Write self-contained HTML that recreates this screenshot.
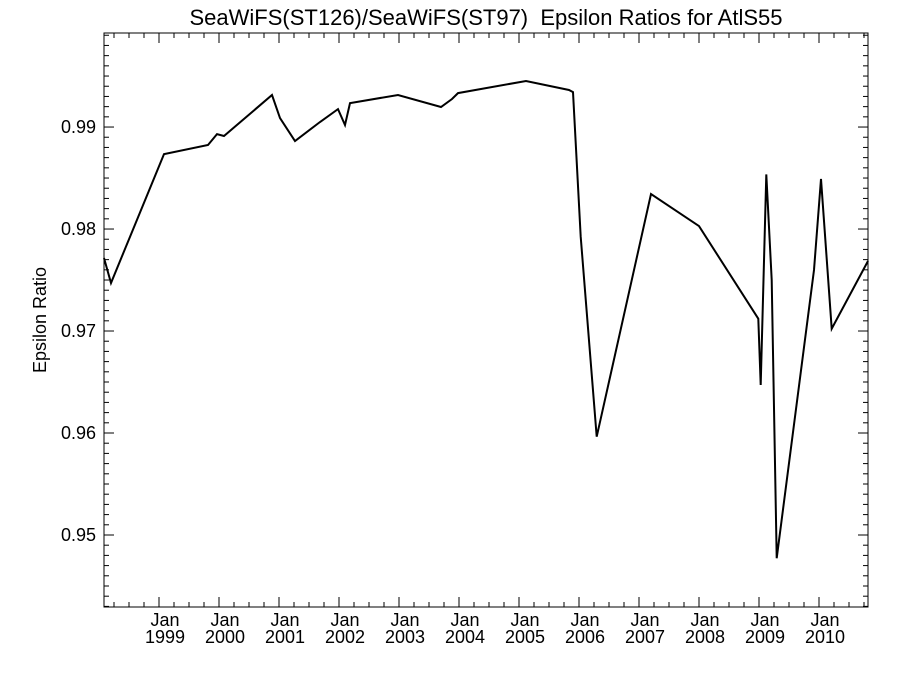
<!DOCTYPE html>
<html><head><meta charset="utf-8"><style>
body{margin:0;background:#fff}
svg{display:block;font-family:"Liberation Sans",Arial,sans-serif}
</style></head><body>
<svg id="chart" width="900" height="675" viewBox="0 0 900 675" xmlns="http://www.w3.org/2000/svg">
<text x="486" y="25" font-size="22" text-anchor="middle" style="white-space:pre">SeaWiFS(ST126)/SeaWiFS(ST97)  Epsilon Ratios for AtlS55</text>
<text transform="translate(46,320) rotate(-90)" font-size="18" text-anchor="middle">Epsilon Ratio</text>
<g id="ticks"></g>
<rect x="104" y="33" width="764" height="574" fill="none" stroke="#000" stroke-width="1"/>
<path id="line" fill="none" stroke="#000" stroke-width="2" stroke-linejoin="miter"/>
</svg>
<script>
const years=[1998.083,1998.2,1999.083,1999.817,1999.967,2000.083,2000.883,2001.017,2001.267,2001.683,2001.983,2002.1,2002.183,2002.983,2003.7,2003.883,2003.983,2005.117,2005.833,2005.9,2006.028,2006.295,2007.2,2008.0,2008.988,2009.028,2009.122,2009.212,2009.295,2009.917,2010.033,2010.212,2010.817];
const ratios=[0.97716,0.97471,0.98735,0.98824,0.98931,0.98912,0.99314,0.99088,0.98863,0.99049,0.99176,0.9902,0.99235,0.99314,0.99196,0.99275,0.99333,0.99451,0.99363,0.99343,0.97925,0.95964,0.98343,0.98029,0.97121,0.96471,0.98536,0.975,0.94772,0.97598,0.9849,0.97023,0.97686];
const yTicks=[0.95,0.96,0.97,0.98,0.99];
const xTickYears=[1999,2000,2001,2002,2003,2004,2005,2006,2007,2008,2009,2010];
const X0=104,X1=868,Y0=607,Y1=33;
const xMin=1998.0833,xMax=2010.8167,yMin=0.94294,yMax=0.99922;
const sx=v=>X0+(v-xMin)/(xMax-xMin)*(X1-X0);
const sy=v=>Y0-(v-yMin)/(yMax-yMin)*(Y0-Y1);
const NS="http://www.w3.org/2000/svg";
const g=document.getElementById('ticks');
function ln(x1,y1,x2,y2,name){const l=document.createElementNS(NS,'line');
l.setAttribute('x1',x1);l.setAttribute('y1',y1);l.setAttribute('x2',x2);l.setAttribute('y2',y2);
l.setAttribute('stroke','#000');l.setAttribute('stroke-width','1');


g.appendChild(l);}
function tx(x,y,s,anchor,name){const t=document.createElementNS(NS,'text');
t.setAttribute('x',x);t.setAttribute('y',y);t.setAttribute('font-size','18');t.setAttribute('text-anchor',anchor);t.textContent=s;


g.appendChild(t);}
for(let v=0.943;v<=0.9992;v+=0.001){const y=sy(v);const major=Math.abs(v*100-Math.round(v*100))<1e-6;const L=major?10:5;
ln(X0,y,X0+L,y,'y-tick');ln(X1,y,X1-L,y,'y-tick');}
yTicks.forEach(v=>tx(X0-8,sy(v)+6,v.toFixed(2),'end','y-tick-label'));
for(let q=Math.ceil(xMin*4-1e-6);q/4<=xMax;q++){const v=q/4;const x=sx(v);const major=Math.abs(v-Math.round(v))<1e-6;const L=major?10:5;
ln(x,Y0,x,Y0-L,'x-tick');ln(x,Y1,x,Y1+L,'x-tick');}
xTickYears.forEach(yr=>{const x=sx(yr)+6;tx(x,626,'Jan','middle','x-tick-label-month');tx(x,643,String(yr),'middle','x-tick-label-year');});
document.getElementById('line').setAttribute('d',years.map((v,i)=>(i?'L':'M')+sx(v).toFixed(1)+','+sy(ratios[i]).toFixed(1)).join(''));
</script>
</body></html>
